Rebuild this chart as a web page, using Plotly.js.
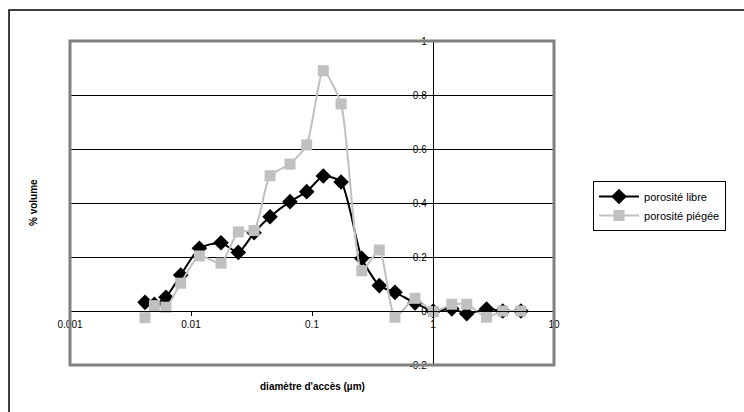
<!DOCTYPE html>
<html>
<head>
<meta charset="utf-8">
<script src="https://cdn.plot.ly/plotly-3.0.1.min.js"></script>
<style>html,body{margin:0;padding:0;background:#fff;}#chart{width:744px;height:412px;}</style>
</head>
<body>
<div id="chart"></div>
<script>
var diametre = [0.00417, 0.00498, 0.00621, 0.00822, 0.01173, 0.0177, 0.0246, 0.0332, 0.045, 0.0658, 0.0904, 0.124, 0.174, 0.258, 0.360, 0.485, 0.710, 1.005, 1.43, 1.90, 2.77, 3.77, 5.33];
var porositeLibre = [0.032, 0.025, 0.051, 0.133, 0.232, 0.253, 0.217, 0.29, 0.349, 0.405, 0.442, 0.5, 0.478, 0.195, 0.094, 0.069, 0.03, 0.0, 0.008, -0.01, 0.007, 0.0, 0.0];
var porositePiegee = [-0.025, 0.02, 0.014, 0.103, 0.204, 0.177, 0.293, 0.298, 0.501, 0.544, 0.615, 0.89, 0.767, 0.149, 0.226, -0.023, 0.047, -0.002, 0.025, 0.025, -0.023, 0.0, 0.0];
var xTicks = [0.001, 0.01, 0.1, 1, 10];
var xTickText = ['0.001', '0.01', '0.1', '1', '10'];
var yTicks = [-0.2, 0, 0.2, 0.4, 0.6, 0.8, 1];
var yTickText = ['-0.2', '0', '0.2', '0.4', '0.6', '0.8', '1'];
var serieNames = ['porosité libre', 'porosité piégée'];

var font = {family: 'Liberation Sans, Arial, sans-serif', size: 10, color: '#000'};
var legendFont = {family: 'Liberation Sans, Arial, sans-serif', size: 11, color: '#000'};

var traces = [
  {x: diametre, y: porositeLibre, name: serieNames[0], type: 'scatter', mode: 'lines+markers',
   line: {color: '#000', width: 2, shape: 'spline', smoothing: 0.6},
   marker: {symbol: 'diamond', size: 12, color: '#000'}},
  {x: diametre, y: porositePiegee, name: serieNames[1], type: 'scatter', mode: 'lines+markers',
   line: {color: '#c0c0c0', width: 2, shape: 'spline', smoothing: 0.6},
   marker: {symbol: 'square', size: 11, color: '#c0c0c0'}}
];

var layout = {
  width: 744, height: 412,
  margin: {l: 70, r: 190, t: 41, b: 47},
  paper_bgcolor: '#fff', plot_bgcolor: '#fff',
  font: font,
  showlegend: true,
  legend: {x: 1.0806, y: 0.568, xanchor: 'left', yanchor: 'top', bordercolor: '#000', borderwidth: 1,
           bgcolor: '#fff', traceorder: 'normal', font: legendFont, tracegroupgap: 0, itemwidth: 40},
  xaxis: {type: 'log', range: [-3, 1], anchor: 'free', position: 0.1667,
          tickvals: xTicks, ticktext: xTickText, showgrid: false, zeroline: false,
          showline: true, linecolor: '#000', linewidth: 1, ticks: 'outside', ticklen: 4,
          tickcolor: '#000', tickfont: font, fixedrange: true},
  yaxis: {range: [-0.2, 1], anchor: 'free', position: 0.7494, side: 'left',
          tickvals: yTicks, ticktext: yTickText, showgrid: true, gridcolor: '#000', gridwidth: 1,
          zeroline: false, showline: true, linecolor: '#000', linewidth: 1,
          ticks: 'outside', ticklen: 4, tickcolor: '#000', tickfont: font, fixedrange: true},
  shapes: [
    {type: 'rect', xref: 'paper', yref: 'paper', x0: 0, x1: 1, y0: 0, y1: 1,
     line: {color: '#808080', width: 3}},
    {type: 'rect', xref: 'paper', yref: 'paper', x0: -0.126, x1: 1.45, y0: -0.3, y1: 1.096,
     line: {color: '#000', width: 1.5}}
  ],
  annotations: [
    {text: '<b>diamètre d\'accès (µm)</b>', xref: 'paper', yref: 'paper', x: 0.5, y: -0.067,
     xanchor: 'center', yanchor: 'middle', showarrow: false, font: font},
    {text: '<b>% volume</b>', xref: 'paper', yref: 'paper', x: -0.0764, y: 0.5, textangle: -90,
     xanchor: 'center', yanchor: 'middle', showarrow: false, font: font}
  ]
};

Plotly.newPlot('chart', traces, layout, {displayModeBar: false, staticPlot: true});
</script>
</body>
</html>
